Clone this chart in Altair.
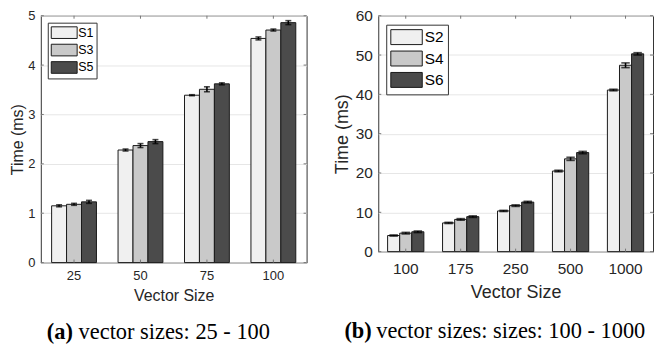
import altair as alt
import pandas as pd

# ---------------- data ----------------
sizes_a = ["25", "50", "75", "100"]
series_a = ["S1", "S3", "S5"]
s1 = [1.15, 2.28, 3.39, 4.54]
s3 = [1.18, 2.37, 3.51, 4.71]
s5 = [1.23, 2.45, 3.62, 4.86]
s1_err = [0.02, 0.02, 0.01, 0.03]
s3_err = [0.02, 0.04, 0.05, 0.02]
s5_err = [0.03, 0.04, 0.02, 0.04]
yticks_a = [0, 1, 2, 3, 4, 5]

sizes_b = ["100", "175", "250", "500", "1000"]
series_b = ["S2", "S4", "S6"]
s2 = [4.1, 7.3, 10.35, 20.5, 41.1]
s4 = [4.7, 8.2, 11.7, 23.6, 47.4]
s6 = [5.05, 8.9, 12.6, 25.2, 50.3]
s2_err = [0.15, 0.15, 0.15, 0.2, 0.2]
s4_err = [0.2, 0.2, 0.2, 0.4, 0.6]
s6_err = [0.2, 0.2, 0.2, 0.3, 0.3]
yticks_b = [0, 10, 20, 30, 40, 50, 60]

fills = ["#f0f0f0", "#c9c9c9", "#4b4b4b"]
x_title = "Vector Size"
y_title = "Time (ms)"
caption_a = ["(a)", "vector sizes: 25 - 100"]
caption_b = ["(b)", "vector sizes: sizes: 100 - 1000"]

SANS = "Liberation Sans"
SERIF = "Liberation Serif"
TXT = "#262626"


def panel(sizes, series, vals, errs, yticks, ymax, W, H, fs_tick, fs_title,
          pad_inner, lab_pad_x, title_pad_x, title_pad_y, leg, cap, cap_x,
          cap_y, cap_fs, cap_w):
    rows = []
    for si, name in enumerate(series):
        for ci, sz in enumerate(sizes):
            v = vals[si][ci]
            e = errs[si][ci]
            rows.append({"size": sz, "series": name, "time": v,
                         "lo": v - e, "hi": v + e})
    df = pd.DataFrame(rows)

    xscale = alt.Scale(domain=sizes, paddingInner=pad_inner,
                       paddingOuter=pad_inner / 2)
    yscale = alt.Scale(domain=[0, ymax], nice=False, zero=True)
    oscale = alt.Scale(domain=series, paddingInner=0, paddingOuter=0)

    x_axis = alt.Axis(title=x_title, labelAngle=0, ticks=False, domain=False,
                      grid=False, labelFont=SANS, titleFont=SANS,
                      labelFontSize=fs_tick, titleFontSize=fs_title,
                      labelColor=TXT, titleColor=TXT,
                      titleFontWeight="normal", labelPadding=lab_pad_x,
                      titlePadding=title_pad_x)
    y_axis = alt.Axis(title=y_title, values=yticks, ticks=False, domain=False,
                      grid=True, gridColor="#e6e6e6", gridWidth=1,
                      labelFont=SANS, titleFont=SANS, labelFontSize=fs_tick,
                      titleFontSize=fs_title, labelColor=TXT, titleColor=TXT,
                      titleFontWeight="normal", labelPadding=6,
                      titlePadding=title_pad_y)

    X = alt.X("size:N", scale=xscale, sort=sizes, axis=x_axis)
    Xn = alt.X("size:N", scale=xscale, sort=sizes, axis=None)
    XO = alt.XOffset("series:N", scale=oscale, sort=series)

    s = leg["s"]
    sh = leg["h"]
    path = "M-2,-{h}H2V{h}H-2Z".format(h=round(sh / s, 4))
    legend = alt.Legend(
        title=None, orient="none", legendX=leg["x"], legendY=leg["y"],
        direction="vertical", fillColor="white", strokeColor="#333333",
        padding=leg["pad"], symbolType=path,
        symbolSize=s * s, symbolStrokeColor="#1a1a1a",
        symbolStrokeWidth=1, symbolOpacity=1, symbolOffset=s / 2,
        labelFont=SANS, labelFontSize=leg["fs"], labelColor="black",
        labelOffset=leg["lo"], rowPadding=leg["row"])

    bars = alt.Chart(df).mark_bar(stroke="#1a1a1a", strokeWidth=1).encode(
        x=X,
        y=alt.Y("time:Q", scale=yscale, axis=y_axis),
        xOffset=XO,
        color=alt.Color("series:N", scale=alt.Scale(domain=series,
                                                    range=fills),
                        sort=series, legend=legend),
    )
    err = alt.Chart(df).mark_rule(color="black", strokeWidth=1.6).encode(
        x=Xn, xOffset=XO,
        y=alt.Y("lo:Q", scale=yscale, axis=None), y2="hi:Q")
    cap_lo = alt.Chart(df).mark_tick(color="black", thickness=1.6,
                                     size=cap_w).encode(
        x=Xn, xOffset=XO, y=alt.Y("lo:Q", scale=yscale, axis=None))
    cap_hi = alt.Chart(df).mark_tick(color="black", thickness=1.6,
                                     size=cap_w).encode(
        x=Xn, xOffset=XO, y=alt.Y("hi:Q", scale=yscale, axis=None))

    yt = pd.DataFrame({"v": yticks})
    xt = pd.DataFrame({"size": sizes})
    tick_col = "#777777"
    yt_l = alt.Chart(yt).mark_rule(color=tick_col).encode(
        y=alt.Y("v:Q", scale=yscale, axis=None),
        x=alt.value(0), x2=alt.value(3))
    yt_r = alt.Chart(yt).mark_rule(color=tick_col).encode(
        y=alt.Y("v:Q", scale=yscale, axis=None),
        x=alt.value(W - 3), x2=alt.value(W))
    xt_b = alt.Chart(xt).mark_rule(color=tick_col).encode(
        x=Xn, y=alt.value(H - 3), y2=alt.value(H))
    xt_t = alt.Chart(xt).mark_rule(color=tick_col).encode(
        x=Xn, y=alt.value(0), y2=alt.value(3))

    cb = pd.DataFrame({"t": [cap[0]]})
    cr = pd.DataFrame({"t": [cap[1]]})
    cap_bold = alt.Chart(cb).mark_text(
        font=SERIF, fontSize=cap_fs, fontWeight="bold", align="left",
        baseline="alphabetic", color="black").encode(
        x=alt.value(cap_x), y=alt.value(cap_y), text="t:N")
    cap_rest = alt.Chart(cr).mark_text(
        font=SERIF, fontSize=cap_fs, align="left", baseline="alphabetic",
        color="black").encode(
        x=alt.value(cap_x + 1.42 * cap_fs), y=alt.value(cap_y), text="t:N")

    return alt.layer(bars, yt_l, yt_r, xt_b, xt_t, err, cap_lo, cap_hi,
                     cap_bold, cap_rest).resolve_axis(
        x="independent", y="independent").properties(width=W, height=H)


left = panel(sizes_a, series_a, [s1, s3, s5], [s1_err, s3_err, s5_err],
             yticks_a, 5, 267, 248, 13, 16, 0.325, 7, 5, 2,
             {"x": 7, "y": 7, "pad": 3, "s": 13, "h": 11.7,
              "fs": 12.5, "row": 1.5, "lo": 7},
             caption_a, 6, 325, 22.5, 6)
right = panel(sizes_b, series_b, [s2, s4, s6], [s2_err, s4_err, s6_err],
              yticks_b, 60, 276, 237, 15.5, 18, 0.34, 10, 7, 4,
              {"x": 8, "y": 9, "pad": 4, "s": 15.8, "h": 15,
               "fs": 15.5, "row": 0.5, "lo": 9.8},
              caption_b, -34, 324, 22.5, 8.5)

chart = alt.hconcat(left, right, spacing=25).resolve_scale(
    x="independent", y="independent", color="independent",
    xOffset="independent").resolve_legend(color="independent").properties(
    padding={"left": 9, "top": 7, "right": 0, "bottom": 0},
    background="white").configure_view(stroke="#333333", strokeWidth=1)

chart.save("out.html", embed_options={"renderer": "svg", "actions": False})
